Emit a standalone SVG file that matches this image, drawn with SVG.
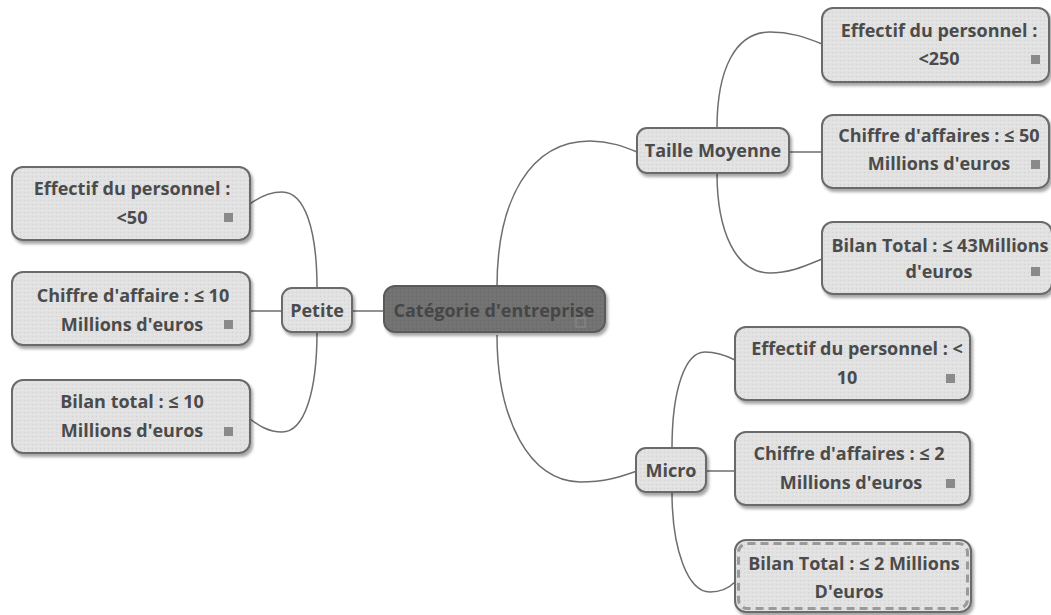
<svg xmlns="http://www.w3.org/2000/svg" width="1051" height="615" viewBox="0 0 1051 615">
<defs>
<filter id="sh" x="-10%" y="-20%" width="130%" height="150%">
<feDropShadow dx="2" dy="3" stdDeviation="1.5" flood-color="#000" flood-opacity="0.35"/>
</filter>
<pattern id="dots" width="4" height="4" patternUnits="userSpaceOnUse">
<rect width="4" height="4" fill="#e1e1e1"/>
<rect x="0" y="0" width="1" height="1" fill="#d2d2d2"/>
<rect x="2" y="2" width="1" height="1" fill="#ececec"/>
</pattern>
<pattern id="dotsd" width="4" height="4" patternUnits="userSpaceOnUse">
<rect width="4" height="4" fill="#727272"/>
<rect x="0" y="0" width="1" height="1" fill="#686868"/>
<rect x="2" y="2" width="1" height="1" fill="#7a7a7a"/>
</pattern>
</defs>
<style>
.n{fill:url(#dots);stroke:#6a6a6a;stroke-width:2;filter:url(#sh)}
.c{fill:url(#dotsd);stroke:#5a5a5a;stroke-width:2;filter:url(#sh)}
.t{font-family:"Open Sans","DejaVu Sans",sans-serif;font-weight:bold;font-size:18px;fill:#4b4b4b;text-anchor:middle}
.ct{fill:#464646;font-size:18px}
.sq{fill:#8a8a8a}
.l{fill:none;stroke:#6e6e6e;stroke-width:1.5}
</style>
<g id="connectors">
<path class="l" d="M352,311 H384"/>
<path class="l" d="M497,287 C497,200 530,141 590,141 C610,141 625,147 637,152"/>
<path class="l" d="M497,335 C497,420 530,482 580,482 C605,482 620,477 637,471"/>
<path class="l" d="M317,288 C317,230 305,192 282,192 C268,192 258,198 250,204"/>
<path class="l" d="M250,311 H282"/>
<path class="l" d="M317,332 C317,390 305,432 282,432 C268,432 258,425 250,419"/>
<path class="l" d="M717,128 C717,70 735,32 770,32 C790,32 805,37 822,44"/>
<path class="l" d="M789,152 H822"/>
<path class="l" d="M717,173 C717,230 735,273 770,273 C790,273 805,266 822,259"/>
<path class="l" d="M672,448 C672,390 685,352 705,352 C718,352 727,356 735,360"/>
<path class="l" d="M706,471 H735"/>
<path class="l" d="M672,492 C672,550 688,592 710,592 C722,592 729,588 735,582"/>
</g>
<g id="central">
<rect class="c" x="384" y="286" width="221" height="46" rx="11"/>
<text class="t ct" x="494" y="317">Catégorie d'entreprise</text>
<rect x="576" y="318" width="9" height="9" fill="none" stroke="#8c8c8c" stroke-width="1"/>
</g>
<g id="petite">
<rect class="n" x="282" y="288" width="70" height="44" rx="10"/>
<text class="t" x="317" y="317">Petite</text>
</g>
<g id="taille">
<rect class="n" x="637" y="128" width="152" height="45" rx="10"/>
<text class="t" x="713" y="157">Taille Moyenne</text>
</g>
<g id="micro">
<rect class="n" x="636" y="448" width="70" height="44" rx="10"/>
<text class="t" x="671" y="477">Micro</text>
</g>
<g id="p-effectif">
<rect class="n" x="12" y="167" width="238" height="73" rx="11"/>
<text class="t" x="132" y="195">Effectif du personnel :</text>
<text class="t" x="132" y="224">&lt;50</text>
<rect class="sq" x="224" y="213" width="9" height="9"/>
</g>
<g id="p-chiffre">
<rect class="n" x="12" y="272" width="238" height="73" rx="11"/>
<text class="t" x="133" y="302">Chiffre d'affaire : ≤ 10</text>
<text class="t" x="132" y="331">Millions d'euros</text>
<rect class="sq" x="224" y="320" width="9" height="9"/>
</g>
<g id="p-bilan">
<rect class="n" x="12" y="380" width="238" height="73" rx="11"/>
<text class="t" x="132" y="408">Bilan total : ≤ 10</text>
<text class="t" x="132" y="437">Millions d'euros</text>
<rect class="sq" x="224" y="427" width="9" height="9"/>
</g>
<g id="t-effectif">
<rect class="n" x="822" y="8" width="227" height="74" rx="11"/>
<text class="t" x="939" y="37">Effectif du personnel :</text>
<text class="t" x="939" y="65">&lt;250</text>
<rect class="sq" x="1031" y="55" width="9" height="9"/>
</g>
<g id="t-chiffre">
<rect class="n" x="822" y="115" width="227" height="73" rx="11"/>
<text class="t" x="939" y="142">Chiffre d'affaires : ≤ 50</text>
<text class="t" x="939" y="170">Millions d'euros</text>
<rect class="sq" x="1031" y="160" width="9" height="9"/>
</g>
<g id="t-bilan">
<rect class="n" x="822" y="222" width="230" height="72" rx="11"/>
<text class="t" x="940" y="252">Bilan Total : ≤ 43Millions</text>
<text class="t" x="939" y="278">d'euros</text>
<rect class="sq" x="1031" y="267" width="9" height="9"/>
</g>
<g id="m-effectif">
<rect class="n" x="735" y="327" width="235" height="73" rx="11"/>
<text class="t" x="857" y="355">Effectif du personnel : &lt;</text>
<text class="t" x="847" y="384">10</text>
<rect class="sq" x="946" y="374" width="9" height="9"/>
</g>
<g id="m-chiffre">
<rect class="n" x="735" y="432" width="235" height="73" rx="11"/>
<text class="t" x="849" y="460">Chiffre d'affaires : ≤ 2</text>
<text class="t" x="851" y="489">Millions d'euros</text>
<rect class="sq" x="946" y="479" width="9" height="9"/>
</g>
<g id="m-bilan">
<rect class="n" x="735" y="540" width="236" height="72" rx="11" stroke="#555"/>
<rect x="738.5" y="543.5" width="229" height="65" rx="9" fill="none" stroke="#9a9a9a" stroke-width="3" stroke-dasharray="8,5"/>
<text class="t" x="854" y="570">Bilan Total : ≤ 2 Millions</text>
<text class="t" x="849" y="598">D'euros</text>
</g>
</svg>
